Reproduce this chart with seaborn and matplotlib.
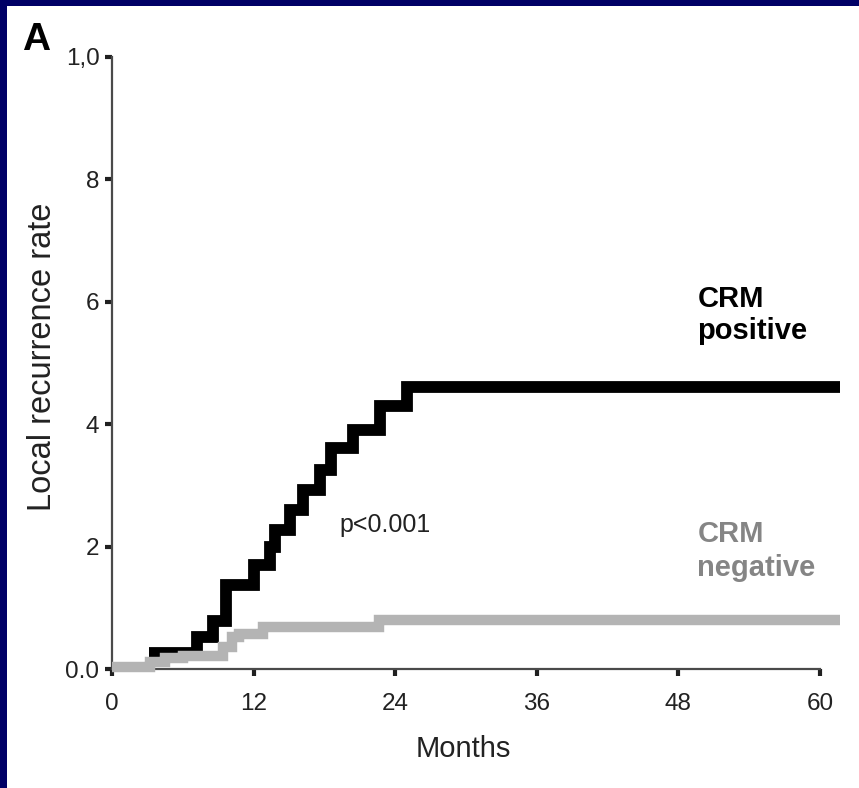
import numpy as np
import pandas as pd
from matplotlib import pyplot as plt
from matplotlib.patches import Rectangle
import seaborn as sns

# step curves (months, cumulative rate)
months_pos = [3.1, 7.2, 8.6, 9.7, 12.0, 13.4, 13.8, 15.1, 16.2, 17.6, 18.6, 20.4, 22.7, 25.0, 61.7]
rate_pos = [0.026, 0.052, 0.078, 0.137, 0.17, 0.20, 0.227, 0.26, 0.293, 0.325, 0.361, 0.39, 0.43, 0.46, 0.46]

months_neg = [0, 3.2, 4.5, 6.0, 9.4, 10.2, 10.8, 12.8, 22.6, 61.7]
rate_neg = [0.004, 0.011, 0.018, 0.022, 0.036, 0.052, 0.058, 0.068, 0.08, 0.08]

x_ticks = [0, 12, 24, 36, 48, 60]
y_ticks = [0.0, 0.2, 0.4, 0.6, 0.8, 1.0]
y_ticklabels = ['0.0', '2', '4', '6', '8', '1,0']

pos = pd.DataFrame({'months': months_pos, 'rate': rate_pos})
neg = pd.DataFrame({'months': months_neg, 'rate': rate_neg})

sns.set_style('white')
plt.rcParams['font.family'] = ['Liberation Sans', 'DejaVu Sans']

fig = plt.figure(figsize=(8.59, 7.88), dpi=100, facecolor='#000066')
fig.patches.append(Rectangle((7 / 859, 0), 1, 1 - 6 / 788, transform=fig.transFigure,
                             facecolor='white', edgecolor='none', zorder=-10))

ax = fig.add_axes([112 / 859, 119 / 788, 737.5 / 859, 612 / 788])
ax.patch.set_alpha(0)

sns.lineplot(data=pos, x='months', y='rate', ax=ax, color='black', lw=8.5,
             drawstyle='steps-post', estimator=None, sort=False,
             solid_joinstyle='miter', solid_capstyle='butt', zorder=3)
sns.lineplot(data=neg, x='months', y='rate', ax=ax, color='#b4b4b4', lw=7.5,
             drawstyle='steps-post', estimator=None, sort=False,
             solid_joinstyle='miter', solid_capstyle='butt', zorder=4)
for line in ax.lines:
    line.set_clip_on(False)

ax.set_xlim(0, 62.5)
ax.set_ylim(0, 1.0)
ax.set_xticks(x_ticks)
ax.set_yticks(y_ticks)
ax.set_yticklabels(y_ticklabels)

for s in ['top', 'right']:
    ax.spines[s].set_visible(False)
for s in ['left', 'bottom']:
    ax.spines[s].set_color('#4a4a4a')
    ax.spines[s].set_linewidth(1.6)
    ax.spines[s].set_zorder(2)
ax.spines['bottom'].set_bounds(0, 60)

ax.tick_params(axis='both', bottom=True, left=True, direction='out', length=5,
               width=3, color='#202020', labelsize=17.5, labelcolor='#222222')
ax.tick_params(axis='y', pad=4)
ax.tick_params(axis='x', pad=12)

ax.set_xlabel('Months', fontsize=21, color='#222222')
ax.set_ylabel('Local recurrence rate', fontsize=23.5, color='#222222')
ax.xaxis.set_label_coords(0.477, -0.108)
ax.yaxis.set_label_coords(-0.073, 0.51)

ax.text(49.6, 0.627, 'CRM\npositive', fontsize=21, fontweight='bold',
        color='black', ha='left', va='top', linespacing=1.15)
ax.text(49.6, 0.244, 'CRM\nnegative', fontsize=21, fontweight='bold',
        color='#858585', ha='left', va='top', linespacing=1.3)
ax.text(19.3, 0.235, 'p<0.001', fontsize=18, color='#222222', ha='left', va='center')

fig.text(22 / 859, 1 - 50 / 788, 'A', fontsize=28, fontweight='bold', color='black',
         ha='left', va='baseline')

plt.savefig('out.png', dpi=100, facecolor=fig.get_facecolor())
